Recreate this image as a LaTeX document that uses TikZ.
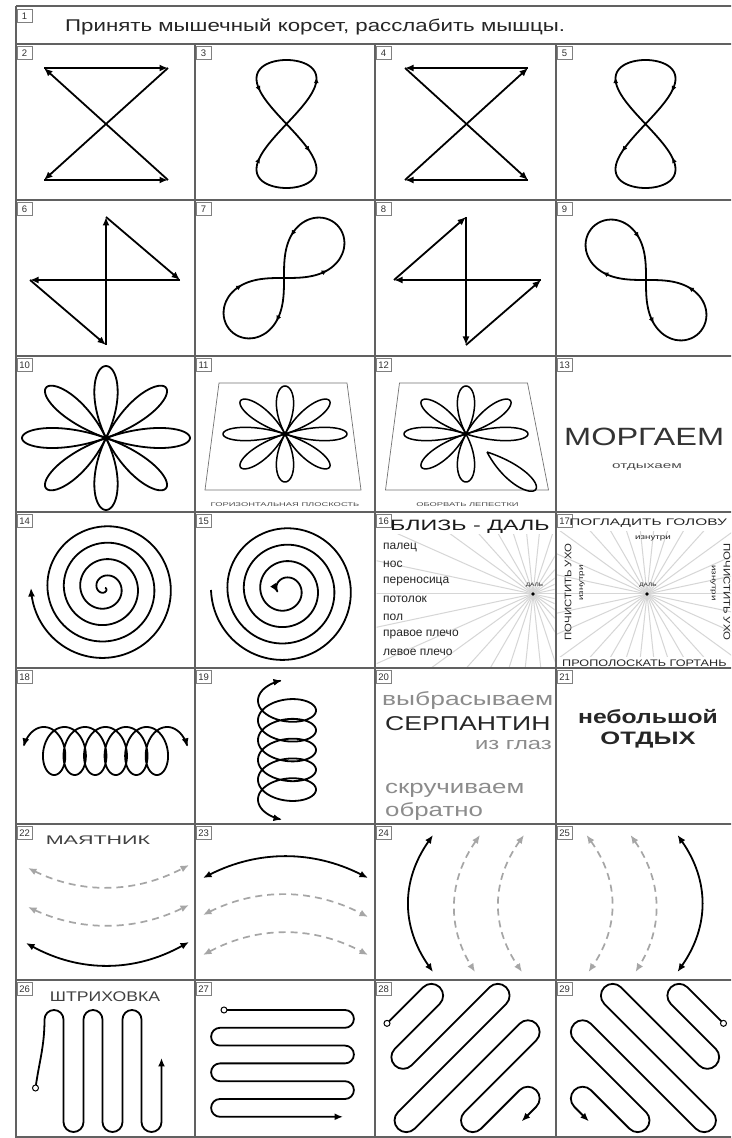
\documentclass[tikz,border=0pt]{standalone}
\usepackage{fontspec}
\setmainfont{Liberation Sans}
\usepackage{graphicx}
\usetikzlibrary{arrows.meta}
\newcommand\sx[2]{\scalebox{#1}[1]{#2}}
\newcommand\fs[1]{\fontsize{#1}{#1}\selectfont}
\newcommand\gerarr[2]{\draw[fig, smallarr] plot[domain=#1:#2, samples=2] ({30*sin(2*\x)}, {64*sin(\x)});}
\newcommand\lemarr[2]{\draw[fig, smallarr] plot[domain=#1:#2, samples=2] ({75*cos(\x)/(1+sin(\x)^2)}, {75*sin(\x)*cos(\x)/(1+sin(\x)^2)});}
\begin{document}
\begin{tikzpicture}[x=1pt,y=1pt,
  gridl/.style={draw=black!62, line width=1.5pt},
  numbox/.style={draw=black!50, line width=0.7pt, fill=white, inner sep=0pt,
     minimum width=15pt, minimum height=13pt, anchor=north west, font=\fs{9.5}, text=black!80},
  fig/.style={draw=black, line width=1.8pt, line join=round},
  arr/.style={-{Latex[length=8.5pt,width=7pt]}},
  smallarr/.style={-{Latex[length=6pt,width=5pt]}},
  arr2/.style={{Latex[length=8.5pt,width=7pt]}-{Latex[length=8.5pt,width=7pt]}},
  arrs/.style={{Latex[length=8.5pt,width=7pt]}-},
  dsh/.style={draw=black!35, line width=1.7pt, dash pattern=on 7pt off 5pt},
  startc/.style={circle, draw=black, line width=1pt, fill=white, inner sep=0pt, minimum size=6pt},
  ray/.style={draw=black!16, line width=1pt},
  txt/.style={inner sep=0pt, font=\fs{12}, text=black!85},
  gtxt/.style={inner sep=0pt, text=black!45},
  trap/.style={draw=black!55, line width=0.7pt},
]
\useasboundingbox (0,0) rectangle (731,1138);
\clip (0,0) rectangle (731,1138);
\fill[white] (0,0) rectangle (731,1138);
% ---------------- grid
\draw[gridl] (16,1132) -- (740,1132);
\draw[gridl] (16,1132) -- (16,0);
\foreach \yy in {1094,938,782,626,470,314,158,1} \draw[gridl] (16,\yy) -- (740,\yy);
\foreach \xx in {195,375,556} \draw[gridl] (\xx,1094) -- (\xx,0);
% ---------------- labels
\node[numbox] (n1) at (16.7,1129) {1};
\foreach \n/\xx/\yy in {2/16/1094,3/195/1094,4/375/1094,5/556/1094,
  6/16/938,7/195/938,8/375/938,9/556/938,
  10/16/782,11/195/782,12/375/782,13/556/782,
  14/16/626,15/195/626,16/375/626,17/556/626,
  18/16/470,19/195/470,20/375/470,21/556/470,
  22/16/314,23/195/314,24/375/314,25/556/314,
  26/16/158,27/195/158,28/375/158,29/556/158}
  \node[numbox] (n\n) at (\xx+0.7,\yy-2) {\n};
% ---------------- header
\node[txt, anchor=west, font=\fs{17}, text=black!85] (h1) at (65,1111) {\sx{1.31}{Принять мышечный корсет, расслабить мышцы.}};
% ---------------- cell 2
\begin{scope}[shift={(106,1014)}]
  \coordinate (a2) at (-62,56); \coordinate (b2) at (62,56);
  \coordinate (c2) at (-62,-56); \coordinate (d2) at (62,-56);
  \draw[fig,arr] (a2) -- (b2); \draw[fig,arr] (b2) -- (c2);
  \draw[fig,arr] (c2) -- (d2); \draw[fig,arr] (d2) -- (a2);
\end{scope}
% ---------------- cell 3
\begin{scope}[shift={(286.5,1014)}]
  \draw[fig] plot[domain=0:360, samples=121, smooth] ({30*sin(2*\x)}, {64*sin(\x)});
  \gerarr{42}{47}\gerarr{145}{150}\gerarr{201}{206}\gerarr{324}{329}
\end{scope}
% ---------------- cell 4
\begin{scope}[shift={(466,1014)}]
  \coordinate (a4) at (-61,56); \coordinate (b4) at (62,56);
  \coordinate (c4) at (-61,-56); \coordinate (d4) at (62,-56);
  \draw[fig,arr] (b4) -- (a4); \draw[fig,arr] (a4) -- (d4);
  \draw[fig,arr] (d4) -- (c4); \draw[fig,arr] (c4) -- (b4);
\end{scope}
% ---------------- cell 5
\begin{scope}[shift={(645.5,1014)}, xscale=-1]
  \draw[fig] plot[domain=0:360, samples=121, smooth] ({30*sin(2*\x)}, {64*sin(\x)});
  \gerarr{42}{47}\gerarr{145}{150}\gerarr{201}{206}\gerarr{324}{329}
\end{scope}
% ---------------- cell 6
\begin{scope}[shift={(105.5,860)}]
  \coordinate (t6) at (0.5,61); \coordinate (b6) at (0.5,-67);
  \coordinate (l6) at (-75.5,-2); \coordinate (r6) at (74.5,-2);
  \draw[fig,arr] (b6) -- (t6); \draw[fig,arr] (t6) -- (r6);
  \draw[fig,arr] (r6) -- (l6); \draw[fig,arr] (l6) -- (b6);
\end{scope}
% ---------------- cell 7
\begin{scope}[shift={(284,860)}, rotate=45]
  \draw[fig] plot[domain=0:360, samples=145, smooth] ({75*cos(\x)/(1+sin(\x)^2)}, {75*sin(\x)*cos(\x)/(1+sin(\x)^2)});
  \lemarr{40}{46}\lemarr{130}{136}\lemarr{220}{226}\lemarr{310}{316}
\end{scope}
% ---------------- cell 8
\begin{scope}[shift={(465.5,860)}]
  \coordinate (t8) at (0.5,61); \coordinate (b8) at (0.5,-67);
  \coordinate (l8) at (-71.5,-2); \coordinate (r8) at (75.5,-2);
  \draw[fig,arr] (l8) -- (t8); \draw[fig,arr] (t8) -- (b8);
  \draw[fig,arr] (b8) -- (r8); \draw[fig,arr] (r8) -- (l8);
\end{scope}
% ---------------- cell 9
\begin{scope}[shift={(646,858)}, xscale=-1, rotate=45]
  \draw[fig] plot[domain=0:360, samples=145, smooth] ({75*cos(\x)/(1+sin(\x)^2)}, {75*sin(\x)*cos(\x)/(1+sin(\x)^2)});
  \lemarr{40}{46}\lemarr{130}{136}\lemarr{220}{226}\lemarr{310}{316}
\end{scope}
% ---------------- cell 10
\begin{scope}[shift={(106,700)}]
  \foreach \ang in {0,45,...,315}
    \draw[fig, line width=1.8pt] plot[domain=-22.5:22.5, samples=41, smooth] ({84*cos(4*\x)*cos(\ang+\x)}, {72*cos(4*\x)*sin(\ang+\x)});
\end{scope}
% ---------------- cell 11
\begin{scope}[shift={(285,704)}]
  \draw[trap] (-66,51) -- (62,51) -- (76,-56) -- (-80,-56) -- cycle;
  \foreach \ang in {0,45,...,315}
    \draw[fig, line width=1.5pt] plot[domain=-22.5:22.5, samples=41, smooth] ({62*cos(4*\x)*cos(\ang+\x)}, {48*cos(4*\x)*sin(\ang+\x)});
  \node[gtxt, text=black!70, font=\fs{5.5}] (t11) at (0,-71) {\sx{1.7}{ГОРИЗОНТАЛЬНАЯ ПЛОСКОСТЬ}};
\end{scope}
% ---------------- cell 12
\begin{scope}[shift={(466,704)}]
  \draw[trap] (-66.5,51) -- (61.5,51) -- (82.5,-56) -- (-80.5,-56) -- cycle;
  \foreach \ang in {0,45,...,270}
    \draw[fig, line width=1.5pt] plot[domain=-22.5:22.5, samples=41, smooth] ({62*cos(4*\x)*cos(\ang+\x)}, {48*cos(4*\x)*sin(\ang+\x)});
  \draw[fig, line width=1.5pt] plot[domain=-22.5:22.5, samples=41, smooth] ({21+68*cos(4*\x)*cos(-45+\x)}, {-18+54*cos(4*\x)*sin(-45+\x)});
  \node[gtxt, text=black!70, font=\fs{5.5}] (t12) at (1.5,-71) {\sx{1.7}{ОБОРВАТЬ ЛЕПЕСТКИ}};
\end{scope}
% ---------------- cell 13
\begin{scope}[shift={(645,704)}]
  \node[txt, anchor=west, font=\fs{25}, text=black!80] (t13a) at (-81,-3) {\sx{1.3}{МОРГАЕМ}};
  \node[txt, font=\fs{9}, text=black!70] (t13b) at (2,-33) {\sx{1.7}{отдыхаем}};
\end{scope}
% ---------------- cell 14
\begin{scope}[shift={(105,550)}]
  \draw[fig, arr] plot[domain=0:1620, samples=400, smooth] ({(\x/1620)*74*cos(\x)}, {-(\x/1620)*74*sin(\x)});
\end{scope}
% ---------------- cell 15
\begin{scope}[shift={(285,548)}]
  \draw[fig, arrs] plot[domain=165:1620, samples=400, smooth] ({(\x/1620)*74*cos(\x)}, {-(\x/1620)*74*sin(\x)});
\end{scope}
% ---------------- cell 16
\begin{scope}[shift={(465.5,548)}]
  \begin{scope}
    \clip (-89,-77) rectangle (89,55);
    \foreach \a in {0,12,...,348} \draw[ray] (67.5,-4) -- ++(\a:220);
  \end{scope}
  \fill[black] (67.5,-4) circle (1.8pt);
  \node[txt, font=\fs{5}] (d16) at (69,5) {\sx{1.3}{ДАЛЬ}};
  \node[txt, anchor=west, font=\fs{15}, text=black!90] (t16) at (-75.5,63) {\sx{1.55}{БЛИЗЬ - ДАЛЬ}};
  \foreach \i/\yy/\w in {1/43/палец, 2/25.5/нос, 3/8/переносица, 4/-9.5/потолок, 5/-27/пол, 6/-44.5/правое плечо, 7/-62/левое плечо}
    \node[txt, anchor=west, font=\fs{12}] (l\i) at (-82.5,\yy) {\w};
\end{scope}
% ---------------- cell 17
\begin{scope}[shift={(645,548)}]
  \begin{scope}
    \clip (-88,-67) rectangle (90,58);
    \foreach \a in {0,12,...,348} \draw[ray] (2,-4) -- ++(\a:220);
  \end{scope}
  \fill[black] (2,-4) circle (1.8pt);
  \node[txt, font=\fs{5}] (d17) at (3,5) {\sx{1.3}{ДАЛЬ}};
  \node[txt, font=\fs{9.5}] (t17a) at (3,67) {\sx{1.62}{ПОГЛАДИТЬ ГОЛОВУ}};
  \node[txt, font=\fs{7}] (t17b) at (8,52) {\sx{1.4}{изнутри}};
  \node[txt, font=\fs{9.5}, rotate=90] (t17c) at (-77,-2) {\sx{1.2}{ПОЧИСТИТЬ УХО}};
  \node[txt, font=\fs{7}, rotate=90] (t17d) at (-63,7) {\sx{1.4}{изнутри}};
  \node[txt, font=\fs{9.5}, rotate=-90] (t17e) at (82,-2) {\sx{1.2}{ПОЧИСТИТЬ УХО}};
  \node[txt, font=\fs{7}, rotate=-90] (t17f) at (68,7) {\sx{1.4}{изнутри}};
  \node[txt, anchor=west, font=\fs{9.5}] (t17g) at (-83,-73) {\sx{1.33}{ПРОПОЛОСКАТЬ ГОРТАНЬ}};
\end{scope}
% ---------------- cell 18
\begin{scope}[shift={(105.5,392)}]
  \draw[fig, arr2] plot[domain=100:2420, samples=500, smooth] ({3.27*rad(\x) - 16*sin(\x) - 71.9}, {-24*cos(\x) - 5});
\end{scope}
% ---------------- cell 19
\begin{scope}[shift={(285,392)}]
  \draw[fig, arr2] plot[domain=100:2060, samples=450, smooth] ({29*cos(\x) + 2}, {3.15*rad(\x) - 16*sin(\x) - 63.4});
\end{scope}
% ---------------- cell 20
\begin{scope}[shift={(465.5,392)}]
  \node[gtxt, anchor=west, font=\fs{19}] (t20a) at (-83.5,45) {\sx{1.39}{выбрасываем}};
  \node[txt, anchor=west, font=\fs{20}, text=black!85] (t20b) at (-80.5,22) {\sx{1.33}{СЕРПАНТИН}};
  \node[gtxt, anchor=east, font=\fs{17}] (t20c) at (86.5,1) {\sx{1.4}{из глаз}};
  \node[gtxt, anchor=west, font=\fs{19}] (t20d) at (-80.5,-44) {\sx{1.36}{скручиваем}};
  \node[gtxt, anchor=west, font=\fs{19}] (t20e) at (-80.5,-66) {\sx{1.36}{обратно}};
\end{scope}
% ---------------- cell 21
\begin{scope}[shift={(645,392)}]
  \node[txt, font=\bfseries\fs{19}] (t21a) at (3,29) {\sx{1.3}{небольшой}};
  \node[txt, font=\bfseries\fs{18}] (t21b) at (3,6) {\sx{1.42}{ОТДЫХ}};
\end{scope}
% ---------------- cell 22
\begin{scope}[shift={(105.5,236)}]
  \node[txt, font=\fs{12.5}, text=black!75] (t22) at (-7.5,62) {\sx{1.72}{МАЯТНИК}};
  \draw[dsh, arr2] (-77.5,34) .. controls (-23.8,7.7) and (29.8,8.7) .. (83.5,37);
  \draw[dsh, arr2] (-77.5,-5) .. controls (-23.8,-29.7) and (29.8,-29) .. (83.5,-3);
  \draw[fig, arr2] (-79.5,-41) .. controls (-25.2,-70.7) and (29.2,-70.3) .. (83.5,-40);
\end{scope}
% ---------------- cell 23
\begin{scope}[shift={(285,236)}]
  \draw[fig, arr2] (-82,24) .. controls (-27,52) and (28,52) .. (83,24);
  \draw[dsh, arr2] (-82,-13) .. controls (-27,14.3) and (28,13.7) .. (83,-15);
  \draw[dsh, arr2] (-82,-53) .. controls (-27,-23.7) and (28,-23.7) .. (83,-53);
\end{scope}
% ---------------- cell 24
\begin{scope}[shift={(465.5,236)}]
  \draw[fig, arr2] (-32.5,67) .. controls (-64.5,21.3) and (-64.5,-24.3) .. (-32.5,-70);
  \draw[dsh, arr2] (14.5,67) .. controls (-17.2,21.3) and (-18.8,-24.3) .. (9.5,-70);
  \draw[dsh, arr2] (58.5,67) .. controls (25.8,21.3) and (25.2,-24.3) .. (56.5,-70);
\end{scope}
% ---------------- cell 25
\begin{scope}[shift={(645,236)}, xscale=-1]
  \draw[fig, arr2] (-32.5,67) .. controls (-64.5,21.3) and (-64.5,-24.3) .. (-32.5,-70);
  \draw[dsh, arr2] (14.5,67) .. controls (-17.2,21.3) and (-18.8,-24.3) .. (9.5,-70);
  \draw[dsh, arr2] (58.5,67) .. controls (25.8,21.3) and (25.2,-24.3) .. (56.5,-70);
\end{scope}
% ---------------- cell 26
\begin{scope}[shift={(105.5,80)}]
  \node[txt, font=\fs{14}, text=black!75] (t26) at (-0.5,61) {\sx{1.26}{ШТРИХОВКА}};
  \draw[fig, arr] (-70,-30) to[out=82,in=-90] (-61,38.5)
     arc[start angle=180, end angle=0, radius=9.5] -- (-42,-64)
     arc[start angle=180, end angle=360, radius=10] -- (-22,38.5)
     arc[start angle=180, end angle=0, radius=9.5] -- (-3,-64)
     arc[start angle=180, end angle=360, radius=10] -- (17,38.5)
     arc[start angle=180, end angle=0, radius=9.5] -- (36,-64)
     arc[start angle=180, end angle=360, radius=10] -- (56,0);
  \node[startc] (s26) at (-70,-30) {};
\end{scope}
% ---------------- cell 27
\begin{scope}[shift={(285,80)}]
  \draw[fig, arr] (-61,48) -- (60,48)
     arc[start angle=90, end angle=-90, radius=8.9] -- (-65,30.2)
     arc[start angle=90, end angle=270, radius=8.9] -- (60,12.4)
     arc[start angle=90, end angle=-90, radius=8.9] -- (-65,-5.4)
     arc[start angle=90, end angle=270, radius=8.9] -- (60,-23.2)
     arc[start angle=90, end angle=-90, radius=8.9] -- (-65,-41)
     arc[start angle=90, end angle=270, radius=8.9] -- (58,-58.8);
  \node[startc] (s27) at (-61,48) {};
\end{scope}
% ---------------- cell 28
\begin{scope}[shift={(465.5,80)}, rotate=45]
  \draw[fig, arr] (-31,80) -- (20,80)
     arc[start angle=90, end angle=-90, radius=11.75] -- (-43.5,56.5)
     arc[start angle=90, end angle=270, radius=11.75] -- (67,33)
     arc[start angle=90, end angle=-90, radius=11.75] -- (-86,9.5)
     arc[start angle=90, end angle=270, radius=11.75] -- (62.5,-14)
     arc[start angle=90, end angle=-90, radius=11.75] -- (-39,-37.5)
     arc[start angle=90, end angle=270, radius=11.75] -- (15.5,-61)
     arc[start angle=90, end angle=-90, radius=11.75] -- (-5,-84.5);
  \node[startc] (s28) at (-31,80) {};
\end{scope}
% ---------------- cell 29
\begin{scope}[shift={(645,80)}, xscale=-1, rotate=45]
  \draw[fig, arr] (-31,80) -- (20,80)
     arc[start angle=90, end angle=-90, radius=11.75] -- (-43.5,56.5)
     arc[start angle=90, end angle=270, radius=11.75] -- (67,33)
     arc[start angle=90, end angle=-90, radius=11.75] -- (-86,9.5)
     arc[start angle=90, end angle=270, radius=11.75] -- (62.5,-14)
     arc[start angle=90, end angle=-90, radius=11.75] -- (-39,-37.5)
     arc[start angle=90, end angle=270, radius=11.75] -- (15.5,-61)
     arc[start angle=90, end angle=-90, radius=11.75] -- (-5,-84.5);
  \node[startc] (s29) at (-31,80) {};
\end{scope}
\end{tikzpicture}
\end{document}
